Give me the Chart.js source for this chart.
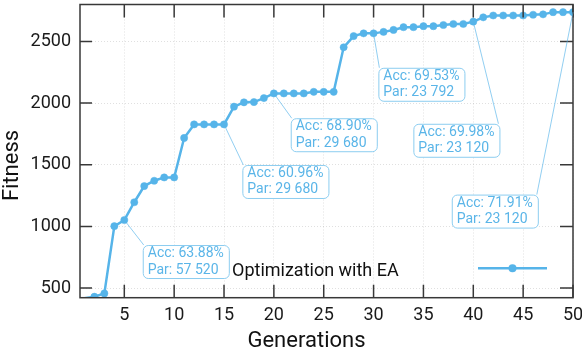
<!DOCTYPE html>
<html>
<head>
<meta charset="utf-8">
<script src="https://cdn.jsdelivr.net/npm/chart.js@4.4.1/dist/chart.umd.min.js"></script>
<style>
  html, body { margin: 0; padding: 0; background: #fff; }
  #wrap { width: 582px; height: 350px; }
</style>
</head>
<body>
<div id="wrap"><canvas id="fitness-chart"></canvas></div>
<script>
// data
const generations = [1, 2, 3, 4, 5, 6, 7, 8, 9, 10,
  11, 12, 13, 14, 15, 16, 17, 18, 19, 20,
  21, 22, 23, 24, 25, 26, 27, 28, 29, 30,
  31, 32, 33, 34, 35, 36, 37, 38, 39, 40,
  41, 42, 43, 44, 45, 46, 47, 48, 49, 50];
const fitness = [418, 430, 457, 1002, 1052, 1196, 1327, 1370, 1397, 1397,
  1717, 1827, 1827, 1827, 1827, 1971, 2006, 2008, 2040, 2078,
  2078, 2078, 2078, 2091, 2091, 2091, 2452, 2543, 2565, 2565,
  2577, 2593, 2615, 2615, 2623, 2623, 2633, 2641, 2641, 2660,
  2695, 2710, 2710, 2710, 2710, 2716, 2719, 2737, 2737, 2737];
const seriesLabel = "Optimization with EA";
const xTitle = "Generations";
const yTitle = "Fitness";

const xTicks = [5, 10, 15, 20, 25, 30, 35, 40, 45, 50];
const yTicks = [500, 1000, 1500, 2000, 2500];

// annotated generations
const noteGens = [5, 15, 20, 30, 40, 50];
const noteAcc = ["63.88%", "60.96%", "68.90%", "69.53%", "69.98%", "71.91%"];
const notePar = ["57 520", "29 680", "29 680", "23 792", "23 120", "23 120"];

// where the boxes sit (top-left corner, in data units) and which top corner the leader goes to
const boxAtX = [6.85, 16.84, 21.69, 30.48, 33.99, 37.84];
const boxAtY = [849, 1498, 1877, 2286, 1832, 1258];
const boxLead = ["left", "left", "left", "left", "right", "right"];

const blue = "#56b4e9";
const yMin = 422;

let frame = {
  id: "frame",
  afterDatasetsDraw(chart) {
    let { ctx, chartArea: a, scales: { x, y } } = chart;
    ctx.save();
    ctx.strokeStyle = "#383838";
    ctx.lineWidth = 1.5;
    ctx.beginPath();
    xTicks.forEach(v => {
      let px = x.getPixelForValue(v);
      ctx.moveTo(px, a.bottom); ctx.lineTo(px, a.bottom - 13);
      ctx.moveTo(px, a.top); ctx.lineTo(px, a.top + 13);
    });
    yTicks.forEach(v => {
      let py = y.getPixelForValue(v);
      ctx.moveTo(a.left, py); ctx.lineTo(a.left + 12, py);
      ctx.moveTo(a.right, py); ctx.lineTo(a.right - 13, py);
    });
    ctx.stroke();
    ctx.strokeRect(a.left, a.top, a.right - a.left, a.bottom - a.top);

    // axis titles sit a little off-centre in the reference
    ctx.fillStyle = "#111";
    ctx.font = "22px Roboto";
    ctx.textAlign = "center";
    ctx.textBaseline = "alphabetic";
    ctx.fillText(xTitle, a.left + 226.5, chart.height - 2.7);
    ctx.translate(17.7, a.top + 161);
    ctx.rotate(-Math.PI / 2);
    ctx.fillText(yTitle, 0, 0);
    ctx.restore();
  }
};

let notes = {
  id: "notes",
  afterDatasetsDraw(chart) {
    let { ctx, scales: { x, y } } = chart;
    ctx.save();
    ctx.font = "14px Roboto";
    noteGens.forEach((g, i) => {
      let px = x.getPixelForValue(g);
      let py = y.getPixelForValue(fitness[generations.indexOf(g)]);
      let l1 = "Acc: " + noteAcc[i], l2 = "Par: " + notePar[i];
      let w = Math.max(ctx.measureText(l1).width, ctx.measureText(l2).width) + 10;
      let h = 33;
      let bx = x.getPixelForValue(boxAtX[i]), by = y.getPixelForValue(boxAtY[i]);
      let ex = boxLead[i] == "left" ? bx + 1 : bx + w - 1;

      ctx.strokeStyle = "rgba(86,180,233,0.65)";
      ctx.lineWidth = 1;
      ctx.beginPath();
      ctx.moveTo(px, py); ctx.lineTo(ex, by);
      ctx.stroke();

      ctx.fillStyle = "#fff";
      ctx.strokeStyle = "#8ccdf0";
      ctx.beginPath();
      ctx.roundRect(bx + 0.5, by + 0.5, w, h, 5);
      ctx.fill(); ctx.stroke();

      ctx.fillStyle = "#5ab5e8";
      ctx.textBaseline = "middle";
      ctx.textAlign = "left";
      ctx.fillText(l1, bx + 5, by + 8.5);
      ctx.fillText(l2, bx + 5, by + 25);
    });

    // legend, drawn text first then the sample
    let a = chart.chartArea;
    ctx.fillStyle = "#111";
    ctx.font = "18px Roboto";
    ctx.textBaseline = "middle";
    ctx.fillText(seriesLabel, a.left + 152, a.bottom - 26);
    ctx.strokeStyle = blue;
    ctx.lineWidth = 2.5;
    ctx.beginPath();
    ctx.moveTo(a.left + 398, a.bottom - 29.5);
    ctx.lineTo(a.left + 467, a.bottom - 29.5);
    ctx.stroke();
    ctx.fillStyle = blue;
    ctx.beginPath();
    ctx.arc(a.left + 432.5, a.bottom - 29.5, 4, 0, Math.PI * 2);
    ctx.fill();
    ctx.restore();
  }
};

let ctx1 = document.getElementById("fitness-chart").getContext("2d");
let fitChart = new Chart(ctx1, {
  type: "line",
  data: {
    datasets: [{
      label: seriesLabel,
      data: generations.map((g, i) => ({ x: g, y: fitness[i] })),
      borderColor: blue,
      backgroundColor: blue,
      borderWidth: 2.5,
      pointRadius: c => (c.raw && c.raw.y < yMin ? 0 : 3.6),
      pointBorderWidth: 0.5,
      pointBackgroundColor: blue,
      pointBorderColor: blue,
      fill: false,
      tension: 0
    }]
  },
  options: {
    responsive: true,
    maintainAspectRatio: false,
    animation: false,
    layout: { padding: { top: 1, right: 9, left: 0, bottom: 0 } },
    plugins: {
      legend: { display: false },
      tooltip: { enabled: false }
    },
    scales: {
      x: {
        type: "linear",
        min: 0.557,
        max: 50,
        afterFit: s => { s.height = 52.3; s.paddingLeft = 0; s.paddingRight = 0; },
        afterBuildTicks: s => { s.ticks = xTicks.map(v => ({ value: v })); },
        ticks: { font: { family: "Roboto", size: 18 }, color: "#1a1a1a", padding: 7, maxRotation: 0,
          callback: v => String(v) },
        grid: { color: "rgba(0,0,0,0.12)", lineWidth: 1, drawTicks: false },
        border: { display: false, dash: [1, 2] }
      },
      y: {
        min: yMin,
        max: 2799,
        afterFit: s => { s.width = 80; s.paddingTop = 0; s.paddingBottom = 0; },
        afterBuildTicks: s => { s.ticks = yTicks.map(v => ({ value: v })); },
        ticks: { font: { family: "Roboto", size: 18 }, color: "#1a1a1a", padding: 9,
          callback: v => String(v) },
        grid: { color: "rgba(0,0,0,0.12)", lineWidth: 1, drawTicks: false },
        border: { display: false, dash: [1, 2] }
      }
    }
  },
  plugins: [frame, notes]
});
</script>
</body>
</html>
